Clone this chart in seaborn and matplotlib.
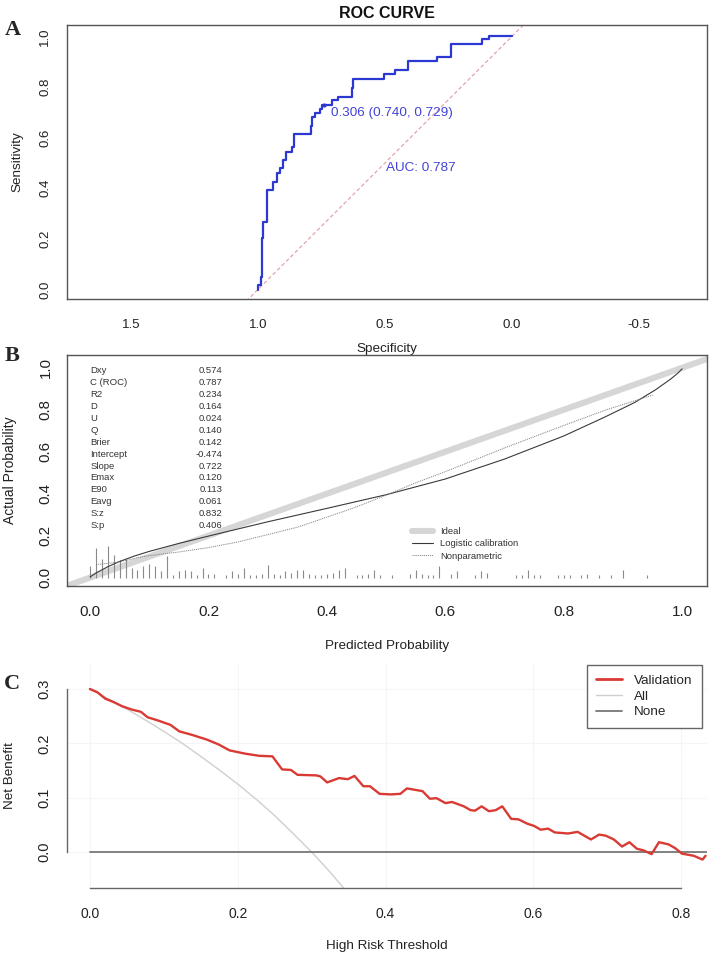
import numpy as np
import pandas as pd
import matplotlib
matplotlib.use("Agg")
import matplotlib.pyplot as plt
import seaborn as sns
from matplotlib.lines import Line2D

# ---------------- Panel A: ROC curve ----------------
roc_spec = [1.000, 1.000, 0.990, 0.990, 0.986, 0.986, 0.979, 0.979, 0.963, 0.963,
            0.942, 0.942, 0.926, 0.926, 0.913, 0.913, 0.900, 0.900, 0.890, 0.890,
            0.867, 0.867, 0.857, 0.857, 0.791, 0.791, 0.789, 0.789, 0.776, 0.776,
            0.756, 0.756, 0.748, 0.748, 0.710, 0.710, 0.684, 0.684, 0.631, 0.631,
            0.627, 0.627, 0.504, 0.504, 0.459, 0.459, 0.411, 0.411, 0.294, 0.294,
            0.239, 0.239, 0.119, 0.119, 0.092, 0.092, 0.000]
roc_sens = [0.000, 0.018, 0.018, 0.051, 0.051, 0.202, 0.202, 0.268, 0.268, 0.393,
            0.393, 0.426, 0.426, 0.459, 0.459, 0.479, 0.479, 0.512, 0.512, 0.545,
            0.545, 0.564, 0.564, 0.615, 0.615, 0.647, 0.647, 0.683, 0.683, 0.699,
            0.699, 0.712, 0.712, 0.729, 0.729, 0.749, 0.749, 0.762, 0.762, 0.795,
            0.795, 0.831, 0.831, 0.852, 0.852, 0.868, 0.868, 0.902, 0.902, 0.920,
            0.920, 0.969, 0.969, 0.989, 0.989, 1.000, 1.000]
best_thr, best_spec, best_sens = 0.306, 0.740, 0.729
auc_value = 0.787
spec_ticks = [1.5, 1.0, 0.5, 0.0, -0.5]
spec_tick_labels = ["1.5", "1.0", "0.5", "0.0", "-0.5"]
unit_ticks = [0.0, 0.2, 0.4, 0.6, 0.8, 1.0]
unit_tick_labels = ["0.0", "0.2", "0.4", "0.6", "0.8", "1.0"]

# ---------------- Panel B: calibration ----------------
cal_pred = [0.000, 0.010, 0.030, 0.050, 0.075, 0.100, 0.150, 0.200, 0.300, 0.400,
            0.500, 0.600, 0.700, 0.800, 0.870, 0.920, 0.955, 0.980, 0.993, 1.000]
cal_logistic = [0.003, 0.022, 0.052, 0.077, 0.103, 0.125, 0.163, 0.198, 0.266, 0.330,
                0.395, 0.470, 0.565, 0.675, 0.766, 0.835, 0.895, 0.945, 0.975, 0.995]
np_pred = [0.010, 0.030, 0.050, 0.080, 0.100, 0.150, 0.200, 0.250, 0.300, 0.350,
           0.400, 0.450, 0.500, 0.550, 0.600, 0.700, 0.800, 0.870, 0.950]
np_actual = [0.062, 0.068, 0.075, 0.095, 0.105, 0.122, 0.143, 0.170, 0.205, 0.240,
             0.288, 0.337, 0.393, 0.452, 0.505, 0.618, 0.725, 0.798, 0.870]
rug_pred = [0.00, 0.01, 0.02, 0.03, 0.04, 0.05, 0.06, 0.07, 0.08, 0.09, 0.10, 0.11,
            0.12, 0.13, 0.14, 0.15, 0.16, 0.17, 0.18, 0.19, 0.20, 0.21, 0.23, 0.24,
            0.25, 0.26, 0.27, 0.28, 0.29, 0.30, 0.31, 0.32, 0.33, 0.34, 0.35, 0.36,
            0.37, 0.38, 0.39, 0.40, 0.41, 0.42, 0.43, 0.45, 0.46, 0.47, 0.48, 0.49,
            0.51, 0.54, 0.55, 0.56, 0.57, 0.58, 0.59, 0.61, 0.62, 0.65, 0.66, 0.67,
            0.72, 0.73, 0.74, 0.75, 0.76, 0.79, 0.80, 0.81, 0.83, 0.84, 0.86, 0.88,
            0.90, 0.94]
rug_height = [0.054, 0.143, 0.089, 0.151, 0.107, 0.083, 0.090, 0.048, 0.038, 0.054,
              0.064, 0.054, 0.032, 0.105, 0.011, 0.032, 0.038, 0.032, 0.011, 0.048,
              0.019, 0.019, 0.011, 0.032, 0.019, 0.045, 0.011, 0.011, 0.019, 0.062,
              0.019, 0.011, 0.032, 0.024, 0.038, 0.038, 0.019, 0.011, 0.011, 0.019,
              0.024, 0.038, 0.045, 0.011, 0.011, 0.019, 0.038, 0.011, 0.011, 0.019,
              0.038, 0.019, 0.011, 0.011, 0.054, 0.019, 0.032, 0.011, 0.032, 0.024,
              0.011, 0.011, 0.038, 0.011, 0.011, 0.011, 0.011, 0.011, 0.011, 0.019,
              0.011, 0.011, 0.038, 0.011]
stat_names = ["Dxy", "C (ROC)", "R2", "D", "U", "Q", "Brier", "Intercept", "Slope",
              "Emax", "E90", "Eavg", "S:z", "S:p"]
stat_values = ["0.574", "0.787", "0.234", "0.164", "0.024", "0.140", "0.142", "-0.474",
               "0.722", "0.120", "0.113", "0.061", "0.832", "0.406"]

# ---------------- Panel C: decision curve ----------------
dca_thr = [0.000, 0.010, 0.021, 0.032, 0.044, 0.057, 0.069, 0.078, 0.090, 0.109,
           0.121, 0.137, 0.158, 0.174, 0.189, 0.210, 0.229, 0.247, 0.260, 0.272,
           0.281, 0.306, 0.312, 0.321, 0.337, 0.349, 0.358, 0.370, 0.379, 0.392,
           0.407, 0.420, 0.429, 0.450, 0.460, 0.469, 0.481, 0.490, 0.506, 0.515,
           0.521, 0.530, 0.540, 0.549, 0.558, 0.570, 0.580, 0.592, 0.601, 0.610,
           0.620, 0.629, 0.647, 0.660, 0.669, 0.678, 0.689, 0.698, 0.709, 0.720,
           0.730, 0.740, 0.749, 0.760, 0.770, 0.783, 0.792, 0.801, 0.817, 0.829,
           0.833]
dca_validation = [0.300, 0.294, 0.282, 0.276, 0.268, 0.262, 0.258, 0.248, 0.243, 0.234,
                  0.222, 0.216, 0.207, 0.198, 0.187, 0.181, 0.177, 0.176, 0.152, 0.151,
                  0.142, 0.141, 0.139, 0.128, 0.136, 0.134, 0.140, 0.121, 0.121, 0.107,
                  0.106, 0.107, 0.117, 0.112, 0.098, 0.099, 0.090, 0.092, 0.084, 0.077,
                  0.076, 0.084, 0.075, 0.077, 0.084, 0.061, 0.060, 0.052, 0.048, 0.041,
                  0.043, 0.036, 0.034, 0.037, 0.030, 0.023, 0.032, 0.030, 0.023, 0.010,
                  0.018, 0.006, 0.003, -0.004, 0.018, 0.014, 0.007, -0.003, -0.007, -0.014,
                  -0.007]
all_thr = [0.000, 0.025, 0.050, 0.075, 0.100, 0.125, 0.150, 0.175, 0.200, 0.225,
           0.250, 0.275, 0.300, 0.325, 0.350]
all_nb = [0.300, 0.282, 0.263, 0.243, 0.222, 0.200, 0.176, 0.151, 0.125, 0.097,
          0.067, 0.034, 0.000, -0.037, -0.077]
none_thr = [0.000, 0.835]
none_nb = [0.000, 0.000]
thr_ticks = [0.0, 0.2, 0.4, 0.6, 0.8]
thr_tick_labels = ["0.0", "0.2", "0.4", "0.6", "0.8"]
nb_ticks = [0.0, 0.1, 0.2, 0.3]
nb_tick_labels = ["0.0", "0.1", "0.2", "0.3"]

# ---------------- figure ----------------
sns.set_style("white")
plt.rcParams["font.family"] = ["Liberation Sans", "DejaVu Sans"]
plt.rcParams["axes.unicode_minus"] = False

W, H = 709, 958
fig = plt.figure(figsize=(W / 100, H / 100), dpi=100)
fig.patch.set_facecolor("white")


def add_ax(l, t, r, b):
    return fig.add_axes([l / W, 1 - b / H, (r - l) / W, (b - t) / H])


def style_box(ax, color="#555555"):
    for s in ax.spines.values():
        s.set_visible(True)
        s.set_color(color)
        s.set_linewidth(1.0)


def rot_y(ax):
    for lab in ax.get_yticklabels():
        lab.set_rotation(90)
        lab.set_va("center")


SERIF = ["Liberation Serif", "DejaVu Serif"]

# ===== Panel A =====
axA = add_ax(67, 25, 707, 299)
roc_df = pd.DataFrame({"Specificity": roc_spec, "Sensitivity": roc_sens})
axA.axline((1, 0), (0, 1), color="#e5a3ab", lw=0.9, ls=(0, (3, 2)), zorder=1)
sns.lineplot(data=roc_df, x="Specificity", y="Sensitivity", sort=False,
             estimator=None, color="#2b38d2", lw=1.6, ax=axA, zorder=3)
sns.scatterplot(x=[best_spec], y=[best_sens], color="#2b38d2", s=9, ax=axA,
                zorder=4, linewidth=0)
axA.text(0.713, 0.698, f"{best_thr:.3f} ({best_spec:.3f}, {best_sens:.3f})",
         color="#4343d8", fontsize=9.7, ha="left", va="center")
axA.text(0.496, 0.480, f"AUC: {auc_value:.3f}", color="#4343d8", fontsize=9.7,
         ha="left", va="center")
axA.set_xlim(1.752, -0.768)
axA.set_ylim(-0.0375, 1.045)
axA.set_xticks(spec_ticks, spec_tick_labels)
axA.set_yticks(unit_ticks, unit_tick_labels)
axA.tick_params(axis="both", direction="out", length=6.5, width=0.9,
                color="#555555", labelcolor="#222222")
axA.tick_params(axis="x", labelsize=9.5, pad=8)
axA.tick_params(axis="y", labelsize=9.5, pad=5)
rot_y(axA)
style_box(axA)
axA.set_xlabel("Specificity", fontsize=9.7, color="#222222")
axA.set_ylabel("Sensitivity", fontsize=9.7, color="#222222")
axA.xaxis.set_label_coords(0.5, (299 - 349) / 274)
axA.xaxis.label.set_va("center")
axA.yaxis.set_label_coords((17 - 67) / 640, 0.5)
axA.yaxis.label.set_va("center")
axA.set_title("ROC CURVE", fontsize=11.5, fontweight="bold", pad=5, color="#111111")
fig.text(13 / W, 1 - 30 / H, "A", family=SERIF, fontweight="bold", fontsize=16,
         ha="center", va="center")

# ===== Panel B =====
axB = add_ax(67, 355, 707, 586)
ideal_df = pd.DataFrame({"x": [-0.1, 1.1], "y": [-0.1, 1.1]})
sns.lineplot(data=ideal_df, x="x", y="y", color="#d6d6d6", lw=4.4, ax=axB,
             zorder=1, estimator=None)
axB.vlines(rug_pred, 0, rug_height, color="#8a8a8a", lw=0.8, zorder=2)
log_df = pd.DataFrame({"pred": cal_pred, "actual": cal_logistic})
sns.lineplot(data=log_df, x="pred", y="actual", color="#3a3a3a", lw=0.8, ax=axB,
             estimator=None, sort=False, zorder=3)
np_df = pd.DataFrame({"pred": np_pred, "actual": np_actual})
sns.lineplot(data=np_df, x="pred", y="actual", color="#7a7a7a", lw=0.7,
             ls=(0, (1, 1)), ax=axB, estimator=None, sort=False, zorder=3)
axB.set_xlim(-0.039, 1.042)
axB.set_ylim(-0.040, 1.061)
axB.set_xticks(unit_ticks, unit_tick_labels)
axB.set_yticks(unit_ticks, unit_tick_labels)
axB.tick_params(axis="both", direction="out", length=6.5, width=0.9,
                color="#555555", labelcolor="#222222")
axB.tick_params(axis="x", labelsize=11, pad=7)
axB.tick_params(axis="y", labelsize=10.8, pad=4)
rot_y(axB)
style_box(axB)
axB.set_xlabel("Predicted Probability", fontsize=9.7, color="#222222")
axB.set_ylabel("Actual Probability", fontsize=10, color="#222222")
axB.xaxis.set_label_coords(0.5, (586 - 646) / 231)
axB.xaxis.label.set_va("center")
axB.yaxis.set_label_coords((10 - 67) / 640, 0.5)
axB.yaxis.label.set_va("center")
row0, drow = 0.987, 0.0569
for i, (nm, vl) in enumerate(zip(stat_names, stat_values)):
    yy = row0 - i * drow
    axB.text(0.0, yy, nm, fontsize=6.8, color="#333333", ha="left", va="center")
    axB.text(0.224, yy, vl, fontsize=6.8, color="#333333", ha="right", va="center")
legB_handles = [Line2D([], [], color="#d6d6d6", lw=4.4),
                Line2D([], [], color="#3a3a3a", lw=0.8),
                Line2D([], [], color="#7a7a7a", lw=0.7, ls=(0, (1, 1)))]
axB.legend(legB_handles, ["Ideal", "Logistic calibration", "Nonparametric"],
           loc="upper left", bbox_to_anchor=((412 - 67) / 640, (586 - 527) / 231),
           frameon=False, fontsize=6.8, handlelength=2.2, handletextpad=0.8,
           labelspacing=0.35, borderpad=0, borderaxespad=0, labelcolor="#333333")
fig.text(12 / W, 1 - 356 / H, "B", family=SERIF, fontweight="bold", fontsize=16,
         ha="center", va="center")

# ===== Panel C =====
axC = add_ax(67, 664, 707, 888)
axC.grid(True, color="#f5f5f5", lw=0.8)
axC.set_axisbelow(True)
all_df = pd.DataFrame({"thr": all_thr, "nb": all_nb})
sns.lineplot(data=all_df, x="thr", y="nb", color="#cfcfcf", lw=1.0, ax=axC,
             estimator=None, sort=False, zorder=2)
none_df = pd.DataFrame({"thr": none_thr, "nb": none_nb})
sns.lineplot(data=none_df, x="thr", y="nb", color="#777777", lw=1.3, ax=axC,
             estimator=None, sort=False, zorder=2)
val_df = pd.DataFrame({"thr": dca_thr, "nb": dca_validation})
sns.lineplot(data=val_df, x="thr", y="nb", color="#d93a33", lw=1.7, ax=axC,
             estimator=None, sort=False, zorder=3)
axC.set_xlim(-0.031, 0.835)
axC.set_ylim(-0.0663, 0.346)
axC.set_xticks(thr_ticks, thr_tick_labels)
axC.set_yticks(nb_ticks, nb_tick_labels)
for side in ["top", "right"]:
    axC.spines[side].set_visible(False)
for side in ["left", "bottom"]:
    axC.spines[side].set_visible(True)
    axC.spines[side].set_color("#666666")
    axC.spines[side].set_linewidth(1.0)
axC.spines["left"].set_bounds(0.0, 0.3)
axC.spines["bottom"].set_bounds(0.0, 0.8)
axC.tick_params(axis="both", direction="out", length=6.5, width=0.9,
                color="#666666", labelcolor="#222222")
axC.tick_params(axis="x", labelsize=10, pad=7)
axC.tick_params(axis="y", labelsize=10.5, pad=5)
rot_y(axC)
axC.set_xlabel("High Risk Threshold", fontsize=9.7, color="#222222")
axC.set_ylabel("Net Benefit", fontsize=9.7, color="#222222")
axC.xaxis.set_label_coords(0.5, (888 - 946) / 224)
axC.xaxis.label.set_va("center")
axC.yaxis.set_label_coords((10 - 67) / 640, 0.5)
axC.yaxis.label.set_va("center")
legC_handles = [Line2D([], [], color="#d93a33", lw=2.0),
                Line2D([], [], color="#cfcfcf", lw=1.0),
                Line2D([], [], color="#777777", lw=1.3)]
legC = axC.legend(legC_handles, ["Validation", "All", "None"], loc="upper right",
                  bbox_to_anchor=((702 - 67) / 640, (888 - 665) / 224),
                  fontsize=9.7, handlelength=1.9, handletextpad=0.9,
                  labelspacing=0.25, borderpad=0.7, borderaxespad=0,
                  fancybox=False, framealpha=1, edgecolor="#666666")
legC.get_frame().set_linewidth(1.0)
fig.text(12 / W, 1 - 684 / H, "C", family=SERIF, fontweight="bold", fontsize=16,
         ha="center", va="center")

fig.savefig("out.png", dpi=100, facecolor="white")
